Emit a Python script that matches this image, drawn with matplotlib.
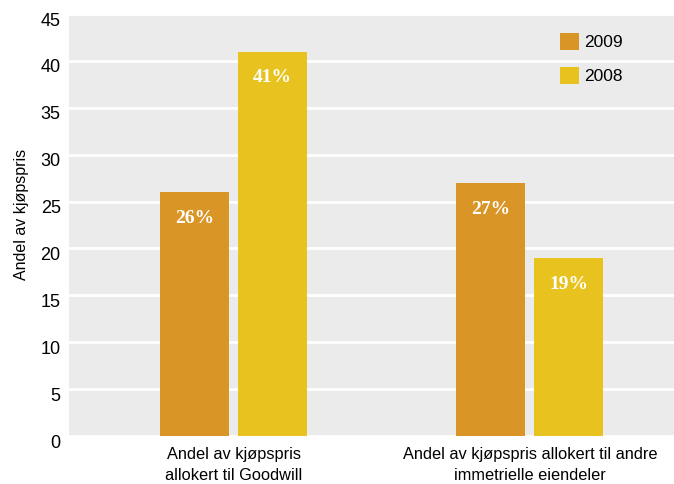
import numpy as np
import matplotlib.pyplot as plt
from matplotlib.transforms import ScaledTranslation

categories = ["Andel av kjøpspris\nallokert til Goodwill",
              "Andel av kjøpspris allokert til andre\nimmetrielle eiendeler"]
years = ["2009", "2008"]
share_2009 = [26, 27]
share_2008 = [41, 19]
yticks = [0, 5, 10, 15, 20, 25, 30, 35, 40, 45]

colors = {"2009": "#d99526", "2008": "#e8c31f"}
sans = ["Liberation Sans", "DejaVu Sans"]

fig = plt.figure(figsize=(6.74, 4.84), dpi=100)
ax = fig.add_axes([69 / 674, 1 - 436 / 484, 605 / 674, 422 / 484])
ax.set_facecolor("#ebebeb")

x = np.arange(len(categories))
w = 0.233
off = 0.1315
for vals, yr, dx in [(share_2009, "2009", -off), (share_2008, "2008", off)]:
    bars = ax.bar(x + dx, vals, width=w, color=colors[yr], label=yr, zorder=3)
    for b, v in zip(bars, vals):
        ax.text(b.get_x() + b.get_width() / 2, v - 2.8, "%d%%" % v,
                ha="center", va="center", color="white", fontsize=14,
                fontweight="bold", family=["Liberation Serif", "DejaVu Serif"],
                zorder=4)

ax.set_xlim(-0.555, 1.486)
ax.set_ylim(0, 45)
ax.set_yticks(yticks)
ax.yaxis.grid(True, color="white", linewidth=2)
ax.set_axisbelow(True)
for s in ax.spines.values():
    s.set_visible(False)
ax.tick_params(length=0)
ax.tick_params(axis="y", labelsize=13, pad=6)
# tick numbers sit a little below their grid lines
shift = ScaledTranslation(0, -5 / 100, fig.dpi_scale_trans)
for t in ax.get_yticklabels():
    t.set_family(sans)
    t.set_transform(t.get_transform() + shift)
ax.set_xticks(x)
ax.set_xticklabels(categories, fontsize=11.8, family=sans, linespacing=1.45)
ax.tick_params(axis="x", pad=8)
ax.set_ylabel("Andel av kjøpspris", fontsize=11.5, family=sans)
ax.yaxis.set_label_coords(-0.066, 0.524)

leg = ax.legend(loc="upper left", bbox_to_anchor=(0.811, 0.955), frameon=False,
                borderpad=0, borderaxespad=0, handlelength=1.12,
                handleheight=1.12, handletextpad=0.3, labelspacing=0.95,
                prop={"family": sans, "size": 12.5})

fig.savefig("out.png", dpi=100)
